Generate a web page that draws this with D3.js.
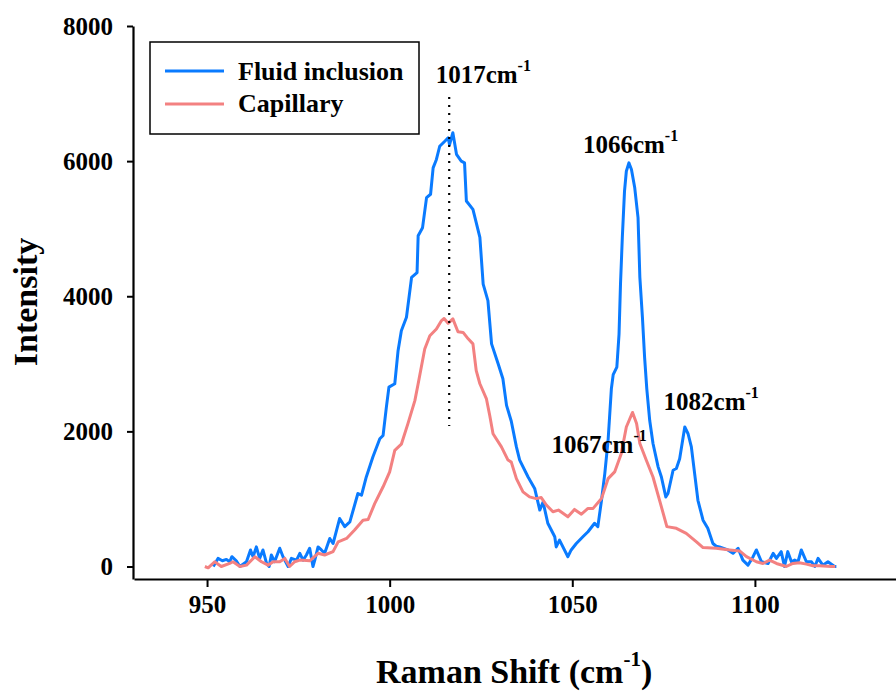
<!DOCTYPE html>
<html>
<head>
<meta charset="utf-8">
<script src="https://cdn.jsdelivr.net/npm/d3@7"></script>
<style>
  html, body { margin: 0; padding: 0; background: #fff; }
  svg { display: block; }
  svg text { font-family: "Liberation Serif", "DejaVu Serif", serif; font-weight: bold; }
</style>
</head>
<body>
<svg id="chart" width="896" height="691"></svg>
<script>
// ---- Data ----
const seriesNames = ["Fluid inclusion", "Capillary"];
const xTicks = [950, 1000, 1050, 1100];
const yTicks = [0, 2000, 4000, 6000, 8000];

const fluidShift = [951.7,953,954.2,955.3,956.2,956.8,958,959,960.8,961.9,962.6,963.5,964.4,965.3,966.3,967,967.6,968.5,969.9,970.8,972.2,973.1,974.5,975.4,976.3,977.2,978.1,979,979.5,980.4,981.3,982.2,983.6,984.5,986.3,987.7,989.1,991.3,992.3,993.6,995.4,997.3,998.2,999.1,999.8,1001.4,1002.3,1003.2,1004.6,1006,1007.5,1007.8,1009,1010.1,1011.2,1011.9,1012.8,1013.7,1015.1,1016,1016.4,1017.3,1018.3,1019.6,1020.5,1021,1022.8,1024.7,1025.6,1026.9,1027.9,1029.7,1031,1032,1033.3,1034.7,1035.6,1037.9,1039.7,1041.1,1042,1043.3,1045.2,1045.6,1046.5,1048.8,1049.7,1051.1,1052.9,1054.3,1056.1,1057,1058,1058.9,1059.8,1060.7,1061.2,1062.2,1062.8,1063.2,1063.7,1064.3,1064.8,1065.5,1066.2,1067.1,1068,1068.5,1069.2,1069.8,1070.4,1071.2,1072.1,1073.5,1074.4,1075.6,1076.2,1077.6,1078.5,1079.4,1080.8,1081.7,1082.6,1083.5,1084.4,1085.8,1087.1,1088.5,1089.4,1090.3,1092.6,1094,1095.4,1096.7,1098.1,1099.5,1100.4,1101.8,1103.6,1105,1105.9,1107.2,1108.1,1109,1110,1110.9,1111.8,1112.7,1114.1,1115.5,1116.4,1117.3,1118.6,1120,1121.8,1122.3];
const fluidIntensity = [0,120,85,105,70,145,85,0,70,245,145,290,120,245,45,0,170,70,270,145,0,120,95,195,95,170,270,0,95,290,245,195,415,340,710,590,660,1080,1055,1325,1620,1890,1940,2360,2655,2705,3195,3490,3690,4280,4350,4895,5015,5460,5510,5900,6025,6220,6295,6345,6245,6420,6100,6000,5975,5410,5285,4870,4180,3935,3295,3000,2780,2385,2150,1770,1575,1325,1155,835,955,640,440,290,390,145,245,340,440,515,640,590,980,1375,1865,2630,2840,2950,3440,4180,4870,5555,5850,5975,5875,5605,5165,4280,3690,3095,2630,2160,1820,1475,1325,1030,1080,1425,1450,1595,2065,1965,1770,1375,980,685,565,340,300,290,245,195,270,95,20,145,245,70,45,195,120,220,0,220,70,95,70,245,70,70,0,120,20,70,0,0];

const capShift = [949.4,950.3,952.1,953.9,956.2,957.1,959,960.8,963.1,964.9,966.7,968.1,969.9,971.3,972.6,974,975.4,978.1,980.4,982.2,984.5,985.9,988.2,990.4,992.7,994.1,995.9,998.2,1000,1001.4,1003.2,1005,1006.9,1007.8,1009.6,1011,1012.8,1014.2,1014.9,1016,1017.3,1018.7,1020.1,1021.5,1022.8,1023.7,1024.7,1026.5,1027.4,1028.3,1030.6,1032.4,1033.3,1034.7,1036.5,1038.3,1040.1,1041.5,1042.9,1044.7,1046.2,1048.8,1050.6,1052.5,1054.3,1055.7,1058,1059.8,1061.6,1063.4,1064.8,1066.5,1067.6,1068.5,1070.3,1072.1,1073.9,1075.9,1078.5,1081.2,1084,1085.8,1089.4,1093.1,1095.8,1097.7,1100.4,1102.2,1104,1105.9,1108.6,1110.4,1112.2,1114.1,1115.9,1117.7,1120.9,1122];
const capIntensity = [0,-20,70,0,45,70,0,20,145,70,20,70,70,120,0,70,95,85,195,170,220,365,415,540,685,695,930,1180,1400,1720,1810,2115,2455,2705,3220,3415,3515,3640,3670,3600,3665,3475,3465,3370,3295,2900,2705,2480,2235,1965,1770,1575,1545,1300,1105,1030,1005,1020,910,810,835,735,845,775,860,860,1005,1300,1400,1670,2065,2280,2115,1820,1570,1325,980,590,565,490,365,280,270,245,230,145,70,45,95,45,0,45,55,35,10,10,0,0];

const peakLabels = ["1017", "1066", "1082", "1067"];
const peakLabelX = [1012.6, 1052.9, 1075.0, 1044.3];
const peakLabelY = [7150, 6120, 2310, 1680];

const markerShift = 1016.3;
const markerRange = [2080, 6950];

// ---- Layout ----
const svg = d3.select("#chart");
const x = d3.scaleLinear().domain([930, 1140]).range([134, 901]);
const y = d3.scaleLinear().domain([-185, 8000]).range([579, 26]);

const blue = "#0A7BFF";
const pink = "#F38181";

// axes
const xAxis = d3.axisBottom(x).tickValues(xTicks).tickFormat(d3.format("d"))
  .tickSize(8).tickSizeOuter(0).tickPadding(8);
const gx = svg.append("g").attr("transform", "translate(0,579)").call(xAxis);
const yAxis = d3.axisLeft(y).tickValues(yTicks).tickFormat(d3.format("d"))
  .tickSize(6).tickSizeOuter(0).tickPadding(14);
const gy = svg.append("g").attr("transform", "translate(133,0)").call(yAxis);

[gx, gy].forEach(g => {
  g.attr("font-family", null).attr("font-size", null);
  g.select(".domain").attr("stroke", "#000").attr("stroke-width", 2.2);
  g.selectAll(".tick line").attr("stroke", "#000").attr("stroke-width", 2);
  g.selectAll(".tick text").attr("fill", "#000").style("font-size", "25px");
});
gx.selectAll(".tick text").attr("dy", "0.71em");

// lines
const line = d3.line().x(d => x(d[0])).y(d => y(d[1]));
const fluidData = fluidShift.map((v, i) => [v, fluidIntensity[i]]);
const capData = capShift.map((v, i) => [v, capIntensity[i]]);

svg.append("path").datum(fluidData)
  .attr("d", line).attr("fill", "none").attr("stroke", blue)
  .attr("stroke-width", 3).attr("stroke-linejoin", "round");
svg.append("path").datum(capData)
  .attr("d", line).attr("fill", "none").attr("stroke", pink)
  .attr("stroke-width", 3).attr("stroke-linejoin", "round");

// dotted marker
svg.append("line")
  .attr("x1", x(markerShift)).attr("x2", x(markerShift))
  .attr("y1", y(markerRange[1])).attr("y2", y(markerRange[0]))
  .attr("stroke", "#000").attr("stroke-width", 2.2)
  .attr("stroke-dasharray", "2,6");

// peak labels
peakLabels.forEach((t, i) => {
  const tx = svg.append("text")
    .attr("x", x(peakLabelX[i])).attr("y", y(peakLabelY[i]))
    .attr("fill", "#000").style("font-size", "25px");
  tx.append("tspan").text(t + "cm");
  tx.append("tspan").attr("dy", -12).style("font-size", "16px").text("-1");
});

// legend
svg.append("rect").attr("x", 150).attr("y", 42).attr("width", 269).attr("height", 92)
  .attr("fill", "#fff").attr("stroke", "#000").attr("stroke-width", 1.5);
[blue, pink].forEach((c, i) => {
  svg.append("line").attr("x1", 165).attr("x2", 224)
    .attr("y1", 71 + i * 33).attr("y2", 71 + i * 33)
    .attr("stroke", c).attr("stroke-width", 3);
  svg.append("text").attr("x", 238).attr("y", 80 + i * 32)
    .attr("fill", "#000").style("font-size", "26px").text(seriesNames[i]);
});

// axis titles
const xt = svg.append("text").attr("x", 376).attr("y", 683)
  .attr("fill", "#000").style("font-size", "34px");
xt.append("tspan").text("Raman Shift (cm");
xt.append("tspan").attr("dy", -17).style("font-size", "21px").text("-1");
xt.append("tspan").attr("dy", 17).style("font-size", "34px").text(")");

svg.append("text")
  .attr("transform", "translate(37,302) rotate(-90)")
  .attr("text-anchor", "middle")
  .attr("fill", "#000").style("font-size", "34px").text("Intensity");
</script>
</body>
</html>
